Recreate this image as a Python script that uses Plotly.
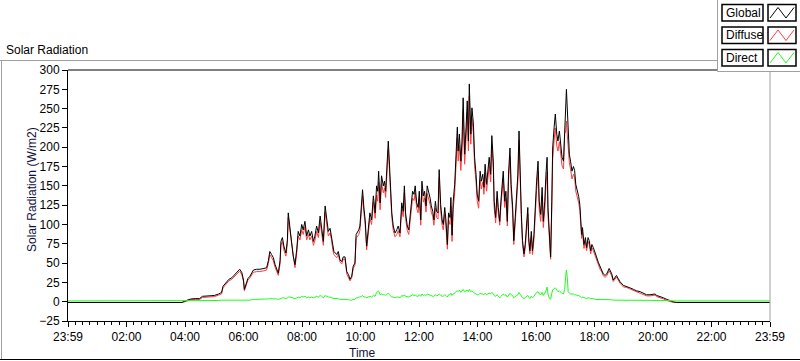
import plotly.graph_objects as go

# ---- data (hours since start, W/m2) ----
time_h = [0, 3.9, 4.0, 4.1, 4.2, 4.35, 4.5, 4.6, 4.8, 5.0, 5.15, 5.25, 5.3, 5.4, 5.5, 5.6, 5.7, 5.8, 5.87, 5.94,
          6.0, 6.03, 6.08, 6.15, 6.22, 6.34, 6.45, 6.56, 6.7, 6.79, 6.85, 6.9, 6.96, 7.02, 7.08, 7.13, 7.19, 7.25, 7.28, 7.33,
          7.38, 7.45, 7.5, 7.53, 7.59, 7.65, 7.7, 7.76, 7.82, 7.87, 7.93, 7.99, 8.04, 8.1, 8.16, 8.22, 8.27, 8.33, 8.39, 8.44,
          8.5, 8.56, 8.62, 8.67, 8.73, 8.79, 8.84, 8.9, 8.96, 9.01, 9.05, 9.09, 9.19, 9.24, 9.3, 9.36, 9.41, 9.47, 9.53, 9.59,
          9.64, 9.7, 9.75, 9.81, 9.85, 9.89, 9.94, 9.98, 10.04, 10.07, 10.12, 10.16, 10.21, 10.27, 10.32, 10.38, 10.44, 10.5, 10.55, 10.59,
          10.62, 10.67, 10.72, 10.78, 10.82, 10.86, 10.9, 10.93, 10.95, 10.99, 11.02, 11.07, 11.12, 11.18, 11.24, 11.29, 11.35, 11.41, 11.46, 11.5,
          11.54, 11.6, 11.65, 11.69, 11.74, 11.78, 11.83, 11.87, 11.92, 11.97, 12.01, 12.06, 12.1, 12.15, 12.19, 12.24, 12.28, 12.33, 12.38, 12.42,
          12.47, 12.51, 12.56, 12.6, 12.65, 12.69, 12.74, 12.79, 12.83, 12.88, 12.92, 12.97, 13.01, 13.06, 13.09, 13.13, 13.17, 13.22, 13.26, 13.31,
          13.34, 13.38, 13.43, 13.47, 13.51, 13.56, 13.61, 13.65, 13.69, 13.72, 13.77, 13.81, 13.86, 13.9, 13.95, 13.99, 14.04, 14.09, 14.13, 14.18,
          14.22, 14.26, 14.31, 14.36, 14.4, 14.45, 14.49, 14.54, 14.57, 14.62, 14.67, 14.71, 14.76, 14.8, 14.85, 14.88, 14.93, 14.97, 15.02, 15.06,
          15.11, 15.15, 15.2, 15.24, 15.29, 15.33, 15.38, 15.42, 15.45, 15.5, 15.54, 15.59, 15.63, 15.68, 15.72, 15.75, 15.79, 15.84, 15.88, 15.93,
          15.97, 16.02, 16.07, 16.11, 16.16, 16.21, 16.25, 16.3, 16.34, 16.38, 16.41, 16.46, 16.5, 16.54, 16.57, 16.62, 16.66, 16.71, 16.75, 16.8,
          16.85, 16.89, 16.94, 16.98, 17.02, 17.04, 17.07, 17.1, 17.14, 17.18, 17.23, 17.28, 17.32, 17.36, 17.41, 17.46, 17.5, 17.53, 17.56, 17.59,
          17.64, 17.69, 17.73, 17.78, 17.82, 17.87, 17.91, 17.96, 18.02, 18.07, 18.13, 18.19, 18.25, 18.3, 18.36, 18.42, 18.5, 18.59, 18.64, 18.7,
          18.75, 18.81, 18.87, 18.99, 19.1, 19.21, 19.33, 19.44, 19.56, 19.67, 19.78, 19.9, 20.07, 20.13, 20.24, 20.36, 20.47, 20.58, 20.69, 20.8,
          24]

global_wm2 = [-1, -1, 1, 2.5, 3.5, 4, 4, 7, 7.5, 8, 10, 12, 20, 24, 29, 31, 35, 38, 42, 38,
              28, 16, 22, 30, 33, 41, 42, 42, 43, 44, 53, 65, 61, 57, 48, 44, 37, 53, 78, 83,
              72, 63, 80, 115, 98, 75, 59, 48, 68, 91, 85, 100, 93, 104, 85, 93, 85, 91, 78, 85,
              98, 89, 111, 96, 78, 124, 106, 91, 95, 85, 72, 65, 61, 65, 54, 52, 58, 58, 39, 35,
              29, 33, 46, 50, 87, 89, 93, 98, 130, 145, 120, 106, 72, 96, 115, 106, 137, 115, 150, 143,
              169, 128, 163, 150, 156, 143, 176, 180, 208, 178, 150, 115, 98, 89, 93, 98, 89, 128, 117, 150,
              115, 98, 93, 111, 128, 143, 139, 150, 128, 122, 143, 106, 156, 137, 143, 124, 150, 143, 134, 124,
              117, 106, 130, 117, 115, 171, 126, 106, 100, 122, 106, 74, 115, 109, 135, 86, 130, 152, 187, 226,
              195, 217, 182, 208, 264, 191, 226, 260, 208, 282, 217, 251, 230, 187, 165, 139, 130, 169, 156, 165,
              148, 178, 152, 174, 187, 165, 215, 182, 130, 109, 143, 122, 104, 130, 156, 169, 130, 143, 104, 165,
              199, 152, 124, 79, 109, 130, 165, 221, 169, 113, 79, 62, 74, 96, 122, 83, 66, 91, 66, 87,
              122, 156, 182, 130, 113, 148, 104, 130, 165, 187, 122, 79, 58, 130, 199, 226, 243, 217, 208, 221,
              199, 187, 182, 234, 256, 275, 247, 208, 191, 182, 169, 175, 170, 152, 145, 136, 125, 109, 87, 96,
              74, 83, 70, 83, 79, 66, 74, 70, 62, 58, 51, 45, 41, 36, 34, 36, 43, 36, 28, 32,
              34, 30, 26, 21, 20, 18, 16, 14, 13, 11, 9, 9, 10, 8, 7, 5, 3, 1.3, 0, -1,
              -1]

diffuse_wm2 = [-1, -1, 0, 1.5, 2.5, 3, 3, 5.5, 6, 6.5, 8.5, 10, 18, 22, 27, 29, 33, 36, 39.5, 35.5,
               26, 14, 20, 28, 31, 38, 39, 39, 40, 41, 49.5, 61, 57, 53, 44.5, 40.5, 34, 49, 73, 78,
               67, 59, 75, 109, 92, 70, 55, 44, 63, 85, 80, 93, 87, 97, 80, 87, 80, 85, 73, 79,
               91, 83, 103, 89, 73, 116, 99, 85, 89, 80, 68, 61, 57, 61, 51, 49, 55, 55, 36, 32,
               27, 31, 43, 47, 82, 84, 87, 92, 123, 137, 114, 100, 67, 90, 108, 100, 129, 108, 138, 130,
               155, 119, 153, 141, 147, 135, 166, 170, 197, 169, 142, 109, 92, 84, 87, 92, 84, 120, 110, 141,
               108, 92, 87, 104, 120, 134, 131, 141, 121, 115, 134, 99, 146, 129, 134, 116, 140, 134, 126, 116,
               110, 99, 121, 109, 107, 161, 118, 99, 93, 113, 98, 68, 106, 100, 124, 78, 120, 141, 174, 212,
               182, 202, 170, 194, 248, 178, 212, 245, 195, 266, 204, 237, 218, 176, 155, 130, 121, 158, 146, 155,
               139, 167, 143, 164, 176, 155, 203, 172, 122, 102, 134, 115, 99, 123, 147, 159, 122, 134, 98, 156,
               188, 143, 116, 74, 102, 122, 156, 209, 159, 106, 74, 58, 69, 90, 114, 77, 62, 84, 61, 80,
               112, 144, 169, 120, 104, 136, 96, 119, 151, 168, 112, 75, 55, 119, 184, 209, 225, 202, 195, 207,
               187, 176, 172, 218, 221, 234, 216, 195, 180, 172, 159, 165, 161, 143, 137, 128, 118, 103, 82, 90,
               69, 78, 66, 78, 74, 62, 70, 66, 59, 55, 48, 42, 38.5, 33.5, 31.5, 33.5, 40, 33.5, 26, 30,
               32, 28, 24, 19, 18.5, 16.5, 14.5, 12.5, 11.5, 9.5, 7.5, 7.5, 8.5, 6.5, 5.5, 3.5, 1.5, 0, -1, -1,
               -1]

direct_wm2 = [1, 1, 1, 1, 1, 1, 1, 1.5, 1.5, 1.5, 1.5, 2, 2, 2, 2, 2, 2, 2, 2.5, 2.5,
              2, 2, 2, 2, 2, 3, 3, 3, 3, 3, 3.5, 4, 4, 4, 3.5, 3.5, 3, 4, 5, 5,
              5, 4, 5, 6, 6, 5, 4, 4, 5, 6, 5, 7, 6, 7, 5, 6, 5, 6, 5, 6,
              7, 6, 8, 7, 5, 8, 7, 6, 6, 5, 4, 4, 4, 4, 3, 3, 3, 3, 3, 3,
              2, 2, 3, 3, 5, 5, 6, 6, 7, 8, 6, 6, 5, 6, 7, 6, 8, 7, 12, 13,
              14, 9, 10, 9, 9, 8, 10, 10, 11, 9, 8, 6, 6, 5, 6, 6, 5, 8, 7, 9,
              7, 6, 6, 7, 8, 9, 8, 9, 7, 7, 9, 7, 10, 8, 9, 8, 10, 9, 8, 8,
              7, 7, 9, 8, 8, 10, 8, 7, 7, 9, 8, 6, 9, 9, 11, 8, 10, 11, 13, 14,
              13, 15, 12, 14, 16, 13, 14, 15, 13, 16, 13, 14, 12, 11, 10, 9, 9, 11, 10, 10,
              9, 11, 9, 10, 11, 10, 12, 10, 8, 7, 9, 7, 5, 7, 9, 10, 8, 9, 6, 9,
              11, 9, 8, 5, 7, 8, 9, 12, 10, 7, 5, 4, 5, 6, 8, 6, 4, 7, 5, 7,
              10, 12, 13, 10, 9, 12, 8, 11, 14, 19, 10, 4, 3, 11, 15, 17, 18, 15, 13, 14,
              12, 11, 10, 16, 35, 41, 31, 13, 11, 10, 10, 10, 9, 9, 8, 8, 7, 6, 5, 6,
              5, 5, 4, 5, 5, 4, 4, 4, 3, 3, 3, 3, 2.5, 2.5, 2.5, 2.5, 3, 2.5, 2, 2,
              2, 2, 2, 2, 1.5, 1.5, 1.5, 1.5, 1.5, 1.5, 1.5, 1.5, 1.5, 1.5, 1.5, 1.5, 1.5, 1.5, 1, 1,
              1]

tick_hours = [0, 2, 4, 6, 8, 10, 12, 14, 16, 18, 20, 22, 24]
tick_labels = ["23:59", "02:00", "04:00", "06:00", "08:00", "10:00", "12:00",
               "14:00", "16:00", "18:00", "20:00", "22:00", "23:59"]
y_ticks = list(range(-25, 301, 25))
legend_names = ["Global", "Diffuse", "Direct"]
series_colors = {"Global": "#000000", "Diffuse": "#ff3c3c", "Direct": "#1cff1c"}

# ---- geometry helpers (pixel -> paper) ----
W, H = 800, 361
L, R, T, B = 68, 30, 70, 40
PW, PH = W - L - R, H - T - B


def px(x):
    return (x - L) / PW


def py(y):
    return (H - B - y) / PH


FONT = "Liberation Sans"
TXT = "#000000"

fig = go.Figure()
fig.add_trace(go.Scatter(x=time_h, y=diffuse_wm2, mode="lines", name="Diffuse",
                         line=dict(color=series_colors["Diffuse"], width=1), showlegend=False))
fig.add_trace(go.Scatter(x=time_h, y=global_wm2, mode="lines", name="Global",
                         line=dict(color=series_colors["Global"], width=1), showlegend=False))
fig.add_trace(go.Scatter(x=time_h, y=direct_wm2, mode="lines", name="Direct",
                         line=dict(color=series_colors["Direct"], width=1), showlegend=False))

fig.update_layout(
    width=W, height=H,
    margin=dict(l=L, r=R, t=T, b=B, pad=0, autoexpand=False),
    paper_bgcolor="white", plot_bgcolor="white",
    font=dict(family=FONT, size=12, color=TXT),
    showlegend=False,
    xaxis=dict(range=[0, 24], tickvals=tick_hours, ticktext=tick_labels, automargin=False,
               showgrid=False, zeroline=False, showline=True, linecolor="black", linewidth=1,
               ticks="outside", ticklen=5, tickcolor="black", tickwidth=1,
               minor=dict(dtick=0.25, ticks="outside", ticklen=3, tickcolor="black", tickwidth=1, showgrid=False),
               tickfont=dict(family=FONT, size=12, color=TXT),
               title=dict(text="", font=dict(family=FONT, size=12, color="#10103a"))),
    yaxis=dict(range=[-25, 300], tickvals=y_ticks, automargin=False,
               showgrid=False, zeroline=False, showline=True, linecolor="black", linewidth=1,
               ticks="outside", ticklen=5, tickcolor="black", tickwidth=1,
               tickfont=dict(family=FONT, size=12, color=TXT),
               title=dict(text="", font=dict(family=FONT, size=12, color="#10103a"))),
)

shapes = []
# plot top (black) and right (grey) borders
shapes.append(dict(type="line", xref="paper", yref="paper", x0=0, x1=1, y0=1, y1=1,
                   line=dict(color="black", width=1)))
shapes.append(dict(type="line", xref="paper", yref="paper", x0=1, x1=1, y0=0, y1=1,
                   line=dict(color="#a0a0a0", width=1)))
# outer frame
shapes.append(dict(type="line", xref="paper", yref="paper", x0=px(0), x1=px(717), y0=py(60.5), y1=py(60.5),
                   line=dict(color="#a0a0a0", width=1)))
shapes.append(dict(type="line", xref="paper", yref="paper", x0=px(1.5), x1=px(1.5), y0=py(60.5), y1=py(359.5),
                   line=dict(color="#a0a0a0", width=1)))
shapes.append(dict(type="line", xref="paper", yref="paper", x0=px(0), x1=px(800), y0=py(359.5), y1=py(359.5),
                   line=dict(color="black", width=1)))
# legend panel
shapes.append(dict(type="rect", xref="paper", yref="paper", x0=px(717.5), x1=px(801), y0=py(-1), y1=py(71.5),
                   line=dict(color="#a0a0a0", width=1), fillcolor="white"))

annotations = [
    dict(text="Solar Radiation", xref="paper", yref="paper", x=px(4), y=py(50),
         xanchor="left", yanchor="middle", showarrow=False,
         font=dict(family=FONT, size=12, color="black")),
    dict(text="Time", xref="paper", yref="paper", x=px(362), y=py(353),
         xanchor="center", yanchor="middle", showarrow=False,
         font=dict(family=FONT, size=12, color="#10103a")),
    dict(text="Solar Radiation (W/m2)", xref="paper", yref="paper", x=px(32), y=py(190),
         xanchor="center", yanchor="middle", showarrow=False, textangle=-90,
         font=dict(family=FONT, size=12, color="#10103a")),
]

rows_top = [4.5, 27, 49.5]
for name, top in zip(legend_names, rows_top):
    bot = top + 16.5
    shapes.append(dict(type="rect", xref="paper", yref="paper", x0=px(722), x1=px(763), y0=py(bot), y1=py(top),
                       line=dict(color="black", width=1.5), fillcolor="white"))
    shapes.append(dict(type="rect", xref="paper", yref="paper", x0=px(768), x1=px(796), y0=py(bot), y1=py(top),
                       line=dict(color="black", width=1.5), fillcolor="white"))
    xs = [770, 778, 786, 794]
    ys = [bot - 3, top + 3, bot - 3, top + 3]
    path = "M " + " L ".join(f"{px(a)},{py(b)}" for a, b in zip(xs, ys))
    shapes.append(dict(type="path", xref="paper", yref="paper", path=path,
                       line=dict(color=series_colors[name], width=1)))
    annotations.append(dict(text=name, xref="paper", yref="paper", x=px(724), y=py((top + bot) / 2),
                            xanchor="left", yanchor="middle", showarrow=False,
                            font=dict(family=FONT, size=12, color="black")))

fig.update_layout(shapes=shapes, annotations=annotations)
fig.write_html("out.html", config={"displayModeBar": False},
               post_script="document.body.style.margin='0';document.body.style.overflow='hidden';")
